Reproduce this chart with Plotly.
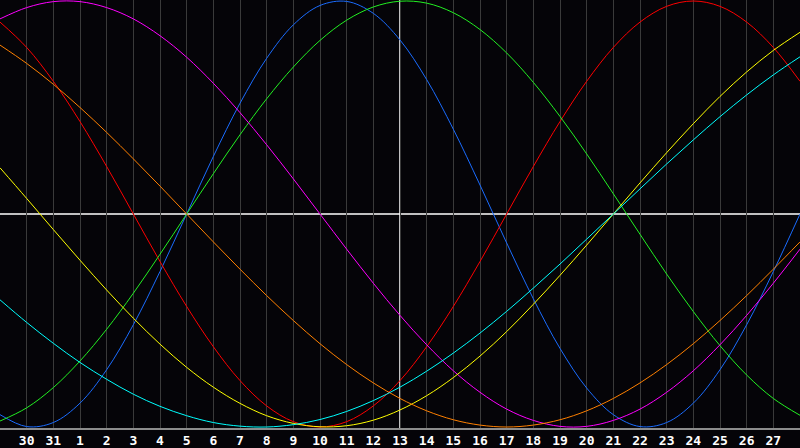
import plotly.graph_objects as go

# Day positions (0 = first day at left edge) and their labels
days = list(range(31))
day_labels = ["29", "30", "31"] + [str(d) for d in range(1, 29)]
today_index = 15  # day 13

# Cycle values read per day (-1 .. 1)
physical = [-0.942, -0.998, -0.979, -0.888, -0.731, -0.520, -0.270, 0, 0.270, 0.520, 0.731,
            0.888, 0.979, 0.998, 0.942, 0.817, 0.631, 0.398, 0.136, -0.136, -0.398, -0.631,
            -0.817, -0.942, -0.998, -0.979, -0.888, -0.731, -0.520, -0.270, 0]
emotional = [0.901, 0.782, 0.623, 0.434, 0.223, 0, -0.223, -0.434, -0.623, -0.782, -0.901,
             -0.975, -1.0, -0.975, -0.901, -0.782, -0.623, -0.434, -0.223, 0, 0.223, 0.434,
             0.623, 0.782, 0.901, 0.975, 1.0, 0.975, 0.901, 0.782, 0.623]
intellectual = [-0.972, -0.910, -0.815, -0.690, -0.541, -0.372, -0.189, 0, 0.189, 0.372, 0.541,
                0.690, 0.815, 0.910, 0.972, 0.999, 0.990, 0.945, 0.866, 0.756, 0.618, 0.458,
                0.282, 0.095, -0.095, -0.282, -0.458, -0.618, -0.756, -0.866, -0.945]
intuitive = [0.916, 0.969, 0.997, 0.997, 0.969, 0.916, 0.837, 0.736, 0.614, 0.476, 0.325,
             0.165, 0, -0.165, -0.325, -0.476, -0.614, -0.736, -0.837, -0.916, -0.969, -0.997,
             -0.997, -0.969, -0.916, -0.837, -0.736, -0.614, -0.476, -0.325, -0.165]
aesthetic = [0.217, 0.073, -0.073, -0.217, -0.357, -0.489, -0.611, -0.720, -0.813, -0.889, -0.947,
             -0.983, -0.999, -0.994, -0.968, -0.920, -0.853, -0.768, -0.667, -0.552, -0.424,
             -0.288, -0.146, 0, 0.146, 0.288, 0.424, 0.552, 0.667, 0.768, 0.853]
awareness = [0.793, 0.707, 0.609, 0.5, 0.383, 0.259, 0.131, 0, -0.131, -0.259, -0.383, -0.5,
             -0.609, -0.707, -0.793, -0.866, -0.924, -0.966, -0.991, -1.0, -0.991, -0.966,
             -0.924, -0.866, -0.793, -0.707, -0.609, -0.5, -0.383, -0.259, -0.131]
spiritual = [-0.403, -0.509, -0.607, -0.697, -0.776, -0.846, -0.903, -0.947, -0.979, -0.996, -1.0,
             -0.989, -0.965, -0.927, -0.876, -0.813, -0.738, -0.653, -0.559, -0.457, -0.348,
             -0.235, -0.118, 0, 0.118, 0.235, 0.348, 0.457, 0.559, 0.653, 0.738]

series = [
    ("Physical", physical, "#1a6cff"),
    ("Emotional", emotional, "#ff0000"),
    ("Intellectual", intellectual, "#22f022"),
    ("Intuitive", intuitive, "#ff00ff"),
    ("Aesthetic", aesthetic, "#ffff00"),
    ("Awareness", awareness, "#ff8000"),
    ("Spiritual", spiritual, "#00ffff"),
]

fig = go.Figure()
for name, vals, col in series:
    fig.add_trace(go.Scatter(x=days, y=vals, mode="lines", name=name,
                             line=dict(color=col, width=1, shape="spline", smoothing=1.0),
                             hoverinfo="skip"))

# white zero line and today line
fig.add_shape(type="line", xref="x", yref="y", x0=0, x1=30, y0=0, y1=0,
              line=dict(color="white", width=1.3), layer="below")
fig.add_shape(type="line", xref="x", yref="paper", x0=today_index, x1=today_index, y0=0, y1=1,
              line=dict(color="white", width=1.5), layer="below")

r = 214.0 / 213.0
fig.update_layout(
    width=800, height=448,
    margin=dict(l=0, r=0, t=0, b=20, pad=0, autoexpand=False),
    paper_bgcolor="#050408",
    plot_bgcolor="#050408",
    showlegend=False,
    xaxis=dict(range=[0, 30], tickmode="array", tickvals=days[1:30], ticktext=day_labels[1:30],
               showgrid=True, gridcolor="#3a3a3a", gridwidth=1, zeroline=False,
               showline=True, linecolor="#8c8c8c", linewidth=1.5, mirror=True,
               ticks="", ticklen=0, automargin=False,
               tickfont=dict(family="DejaVu Sans Mono", size=13, color="white", weight="bold"),
               fixedrange=True),
    yaxis=dict(range=[-r, r], showgrid=False, zeroline=False, showticklabels=False,
               showline=True, linecolor="#8c8c8c", linewidth=1.5, mirror=False, ticks="",
               automargin=False, fixedrange=True),
)

fig.write_html(
    "out.html",
    config={"displayModeBar": False},
    post_script="document.body.style.margin='0';document.body.style.padding='0';"
                "document.body.style.overflow='hidden';document.body.style.background='#050408';",
)
